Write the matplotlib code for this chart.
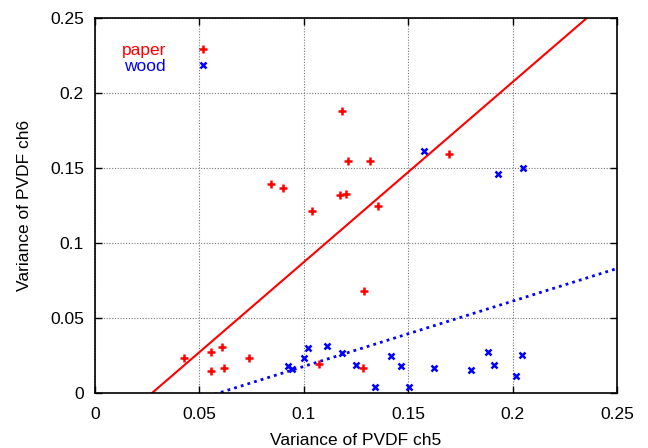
import matplotlib
matplotlib.use('Agg')
import matplotlib.pyplot as plt
import numpy as np
from matplotlib.ticker import FormatStrFormatter

plt.rcParams['font.family'] = ['Liberation Sans', 'DejaVu Sans']
plt.rcParams['font.size'] = 12.5

# paper samples (ch5 variance, ch6 variance)
paper_x = [0.0426, 0.0554, 0.0610, 0.0557, 0.0618, 0.0739, 0.1073, 0.1282,
           0.1184, 0.1212, 0.1319, 0.0843, 0.0899, 0.1175, 0.1204, 0.1038,
           0.1355, 0.1287, 0.1698]
paper_y = [0.0233, 0.0275, 0.0305, 0.0149, 0.0169, 0.0231, 0.0191, 0.0164,
           0.1882, 0.1547, 0.1547, 0.1395, 0.1364, 0.1322, 0.1327, 0.1211,
           0.1249, 0.0680, 0.1593]

# wood samples
wood_x = [0.0926, 0.0942, 0.0999, 0.1022, 0.1110, 0.1181, 0.1248, 0.1341,
          0.1416, 0.1468, 0.1502, 0.1624, 0.1574, 0.1930, 0.2051, 0.1801,
          0.1882, 0.1911, 0.2018, 0.2045]
wood_y = [0.0182, 0.0162, 0.0233, 0.0302, 0.0316, 0.0267, 0.0187, 0.0040,
          0.0249, 0.0180, 0.0042, 0.0169, 0.1611, 0.1458, 0.1502, 0.0155,
          0.0271, 0.0189, 0.0113, 0.0253]

# fitted lines y = a*x + b
paper_fit = (1.2, -0.0328)
wood_fit = (0.435, -0.0258)

ticks = [0, 0.05, 0.1, 0.15, 0.2, 0.25]

fig = plt.figure(figsize=(6.48, 4.48), dpi=100)
ax = fig.add_axes([0.1466, 0.1228, 0.8054, 0.8372])

xx = np.linspace(0, 0.25, 200)
ax.plot(xx, paper_fit[0] * xx + paper_fit[1], color='red', lw=1.5, zorder=2)
ax.plot(xx, wood_fit[0] * xx + wood_fit[1], color='blue', lw=2, ls=(0, (1, 1.5)), zorder=2)

ax.plot(paper_x, paper_y, ls='none', marker='+', ms=5.5, mew=1.8, color='red', label='paper', zorder=3)
ax.plot(wood_x, wood_y, ls='none', marker='x', ms=4.5, mew=1.8, color='blue', label='wood', zorder=3)

ax.set_xlim(0, 0.25)
ax.set_ylim(0, 0.25)
ax.set_xticks(ticks)
ax.set_yticks(ticks)
ax.xaxis.set_major_formatter(FormatStrFormatter('%g'))
ax.yaxis.set_major_formatter(FormatStrFormatter('%g'))
ax.tick_params(axis='x', direction='in', length=5, width=1, top=True, pad=10)
ax.tick_params(axis='y', direction='in', length=5, width=1, right=True, pad=8)
ax.grid(True, color='#777777', ls=(0, (1, 1.5)), lw=0.8)
for s in ax.spines.values():
    s.set_linewidth(1.2)

ax.set_xlabel('Variance of PVDF ch5', labelpad=8)
ax.set_ylabel('Variance of PVDF ch6', labelpad=13)

leg = ax.legend(loc='upper left', bbox_to_anchor=(0.038, 0.951), frameon=False,
                markerfirst=False, labelcolor='linecolor', handlelength=1.0,
                handletextpad=1.65, labelspacing=0.05, borderaxespad=0)

fig.savefig('out.png', dpi=100)
